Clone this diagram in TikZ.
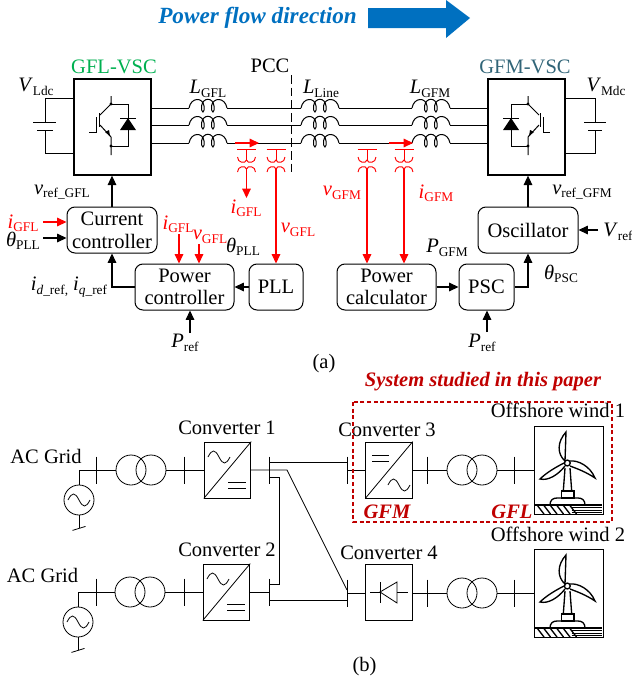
\documentclass[tikz,border=0pt]{standalone}
\usepackage{fontspec}
\setmainfont{Liberation Serif}
\usepackage{tikz}
\usetikzlibrary{arrows.meta, positioning, calc}
\definecolor{flowblue}{RGB}{0,112,192}
\definecolor{gflgreen}{RGB}{0,176,80}
\definecolor{gfmteal}{RGB}{49,101,120}
\definecolor{studyred}{RGB}{192,0,0}
\newcommand{\sigl}[2]{\textit{#1}\raisebox{-2.5pt}{\fontsize{10}{10}\selectfont #2}}
\tikzset{
    every node/.style={font=\fontsize{15.4}{17}\selectfont, inner sep=0pt},
    flow/.style={-{Triangle[length=7pt,width=6.4pt]}, line width=0.8pt},
    wire/.style={line width=0.75pt},
    thinwire/.style={line width=0.6pt},
    redflow/.style={flow, red},
    vscbox/.style={draw, line width=1pt, minimum width=57.75pt, minimum height=72pt},
    ctrl/.style={draw, line width=0.75pt, rounded corners=6pt, minimum height=34.5pt, align=center},
    convbox/.style={draw, thinwire, minimum width=35pt, minimum height=42pt},
    trafo/.style={draw, circle, thinwire, minimum size=22.5pt},
    windbox/.style={draw, thinwire, minimum width=51.75pt, minimum height=66pt},
    coil/.pic={
        \draw[wire] (0,0) .. controls (2,-11) and (14,-11) .. (15,-2) .. controls (16,6) and (12,6) .. (12.5,-2)
            .. controls (14,-11) and (24,-11) .. (25,-2) .. controls (26,6) and (22,6) .. (22.5,-2)
            .. controls (24,-11) and (36,-11) .. (38,0);
        \coordinate (-in) at (0,0);
        \coordinate (-out) at (38,0);
    },
    ct/.pic={
        \draw[red, line width=0.7pt] (-9.5,0) -- (9.5,0);
        \draw[red, line width=0.7pt] (0,0) -- (0,11);
        \draw[red, line width=0.7pt] (-9,8) .. controls (-9,14) and (-1,15) .. (0,11) .. controls (1,15) and (9,14) .. (9,8);
        \draw[red, line width=0.7pt] (-9,23) .. controls (-9,17) and (-1,16) .. (0,20) .. controls (1,16) and (9,17) .. (9,23);
        \coordinate (-out) at (0,20);
    },
    igbt/.pic={
        \draw[wire] (0,-29) -- (0,-21) -- (-11,-10);
        \draw[wire] (-12,-12) -- (-12,2);
        \draw[wire] (-15,-8) -- (-15,7) -- (-22,7);
        \draw[wire] (-11,0) -- (0,12) -- (0,30);
        \fill (-6,7) -- (-1,11) -- (-2,5) -- cycle;
        \fill (0,-21) circle[radius=1.2pt] (0,21) circle[radius=1.2pt];
        \draw[wire] (0,-21) -- (17,-21) -- (17,21) -- (0,21);
        \draw[wire] (9,-7) -- (25,-7);
        \fill (17,-7) -- (9,5) -- (25,5) -- cycle;
    },
    wave/.pic={
        \draw[thinwire] (0,0) .. controls (4,-8) and (7,-8) .. (11,0) .. controls (15,8) and (18,8) .. (22,0);
    },
    busbar/.pic={
        \draw[thinwire] (0,-13.5) -- (0,13.5);
    },
    turbine/.pic={
        % blades
        \draw[line width=1pt, fill=white] (32,6) .. controls (23,16) and (23,28) .. (31,35) -- cycle;
        \draw[line width=1pt] (36,35) .. controls (44,34) and (56,40) .. (61,52) .. controls (52,46) and (44,43) .. (36,40);
        \draw[line width=1pt] (30,37) .. controls (22,41) and (12,47) .. (6,53) .. controls (14,55) and (24,49) .. (31,40);
        \draw[line width=1pt] (33.3,37) circle[radius=2.2pt];
        % tower
        \draw[line width=1pt] (31,42) -- (29.3,65) (36,42) -- (37.7,65);
        \draw[line width=1pt] (27.7,65) rectangle (40,72);
        \draw[line width=1pt] (16,79) .. controls (16,74) and (19,72) .. (23,72) -- (44,72) .. controls (48,72) and (51,74) .. (51,79);
        % sea
        \draw[line width=1pt] (1,79) -- (67.7,79);
        \foreach \l in {81.8,84.3,86.8} {
            \draw[line width=0.7pt] (37.7,\l) -- (67.7,\l);
        }
        \foreach \s in {3,9.5,16,22.5,29,35.5} {
            \draw[line width=1pt] (\s,79) -- (\s+7,88);
        }
    },
}
\begin{document}
\begin{tikzpicture}[x=0.75pt, y=-0.75pt]
\useasboundingbox (0,0) rectangle (632,682);

% Power flow banner
\node[font=\fontsize{17.4}{20}\selectfont\bfseries\itshape, text=flowblue] (flowtitle) at (257.5,18) {Power flow direction};
\fill[flowblue] (368,8) -- (446,8) -- (446,0) -- (470,18) -- (446,38) -- (446,28) -- (368,28) -- cycle;

% Converters
\node[vscbox] (gflvsc) at (112.5,127) {};
\node[vscbox] (gfmvsc) at (526.5,127) {};
\node[text=gflgreen] (gfltitle) at (114,67) {GFL-VSC};
\node[text=gfmteal] (gfmtitle) at (525,67) {GFM-VSC};
\pic at (111,125) {igbt};
\pic[xscale=-1] at (528,125) {igbt};

% DC sides
\node (vldc) at (36,87) {\sigl{V}{Ldc}};
\draw[wire] (gflvsc.west |- 0,98) -- (45,98) -- (45,122) (33,122) -- (56,122) (37,130) -- (53,130) (45,130) -- (45,153) -- (gflvsc.west |- 0,153);
\node (vmdc) at (606,87) {\sigl{V}{Mdc}};
\draw[wire] (gfmvsc.east |- 0,98) -- (595,98) -- (595,122) (584,122) -- (606,122) (588,130) -- (602,130) (595,130) -- (595,153) -- (gfmvsc.east |- 0,153);

% Three phase lines
\foreach \y/\n in {108/1, 125/2, 143/3} {
    \pic (lgfl\n) at (189,\y) {coil};
    \pic (lline\n) at (301,\y) {coil};
    \pic (lgfm\n) at (412,\y) {coil};
    \draw[wire] (gflvsc.east |- lgfl\n-in) -- (lgfl\n-in);
    \draw[wire] (lgfl\n-out) -- (lline\n-in);
    \draw[wire] (lline\n-out) -- (lgfm\n-in);
    \draw[wire] (lgfm\n-out) -- (gfmvsc.west |- lgfm\n-out);
}
\node (lgfltxt) at (208,89) {\sigl{L}{GFL}};
\node (llinetxt) at (321,89) {\sigl{L}{Line}};
\node (lgfmtxt) at (430,89) {\sigl{L}{GFM}};

% PCC
\node (pcc) at (270,66) {PCC};
\coordinate (pcctop) at (291,75);
\coordinate (pccbot) at (291,173);
\draw[wire, dash pattern=on 6.5pt off 3pt] (pcctop) -- (pccbot);

% Measurements
\coordinate (igfls) at (235,143);
\coordinate (igfle) at (259,143);
\coordinate (igfms) at (389,143);
\coordinate (igfme) at (413,143);
\draw[redflow] (igfls) -- (igfle);
\draw[redflow] (igfms) -- (igfme);
\pic (ctia) at (246.5,149) {ct};
\pic (ctva) at (276,149) {ct};
\pic (ctvb) at (367,149) {ct};
\pic (ctib) at (404,149) {ct};

% Control blocks
\node[ctrl, minimum width=67.5pt] (curctrl) at (112,230) {Current\\controller};
\node[ctrl, minimum width=74.25pt] (powctrl) at (184.5,287) {Power\\controller};
\node[ctrl, minimum width=40.5pt] (pll) at (276,287) {PLL};
\node[ctrl, minimum width=74.25pt] (powcalc) at (386.5,287) {Power\\calculator};
\node[ctrl, minimum width=41.25pt] (psc) at (486.5,287) {PSC};
\node[ctrl, minimum width=75pt] (osc) at (528,230) {Oscillator};

% Control connectors
\draw[flow] (curctrl.north) -- (curctrl.north |- gflvsc.south);
\draw[flow] (powctrl.west) -| (curctrl.south);
\draw[flow] (pll.west) -- (powctrl.east);
\draw[flow] (osc.north) -- (osc.north |- gfmvsc.south);
\draw[flow] (powcalc.east) -- (psc.west);
\draw[flow] (psc.east) -| (osc.south);

% Red feedback signals
\coordinate (igflend) at (246.5,198);
\draw[redflow] (ctia-out) -- (igflend);
\draw[redflow] (ctva-out) -- (pll.north -| ctva-out);
\draw[redflow] (ctvb-out) -- (powcalc.north -| ctvb-out);
\draw[redflow] (ctib-out) -- (powcalc.north -| ctib-out);
\node[text=red] (igflb) at (246,208) {\sigl{i}{GFL}};
\node[text=red] (vgflb) at (298,230) {\sigl{v}{GFL}};
\node[text=red] (vgfmb) at (342,193) {\sigl{v}{GFM}};
\node[text=red] (igfmb) at (436,193) {\sigl{i}{GFM}};

% Inputs of current controller
\node[text=red] (igfla) at (23,223) {\sigl{i}{GFL}};
\node (thetaa) at (23,241) {\sigl{θ}{PLL}};
\coordinate (igflin) at (43,222);
\coordinate (thetain) at (43,238);
\draw[redflow] (igflin) -- (igflin -| curctrl.west);
\draw[flow] (thetain) -- (thetain -| curctrl.west);

% Inputs of power controller
\node[text=red] (igflc) at (178,224) {\sigl{i}{GFL}};
\node[text=red] (vgflc) at (210,237) {\sigl{v}{GFL}};
\node (thetab) at (243,247) {\sigl{θ}{PLL}};
\coordinate (igflpc) at (179,234);
\coordinate (vgflpc) at (199,244);
\draw[redflow] (igflpc) -- (igflpc |- powctrl.north);
\draw[redflow] (vgflpc) -- (vgflpc |- powctrl.north);

% Remaining labels
\node (vrefa) at (62,192) {\sigl{v}{ref\_GFL}};
\node (idq) at (69,287) {\sigl{i}{\textit{d}\_ref,} \sigl{i}{\textit{q}\_ref}};
\node (prefa) at (185,343) {\sigl{P}{ref}};
\coordinate (prefaup) at (190,333);
\draw[flow] (prefaup) -- (prefaup |- powctrl.south);
\node (vrefb) at (582,192) {\sigl{v}{ref\_GFM}};
\node (pgfm) at (447,248) {\sigl{P}{GFM}};
\node (thetac) at (561,274) {\sigl{θ}{PSC}};
\node (vref) at (618,232) {\sigl{V}{ref}};
\coordinate (vrefin) at (598,230);
\draw[flow] (vrefin) -- (vrefin -| osc.east);
\node (prefb) at (482,343) {\sigl{P}{ref}};
\coordinate (prefbup) at (487,332);
\draw[flow] (prefbup) -- (prefbup |- psc.south);
\node (capa) at (324,364) {(a)};

% AC grids
\node (grida) at (46,456) {AC Grid};
\node (gridb) at (42.5,575) {AC Grid};
\foreach \n/\x/\y in {a/79/500, b/78/622} {
    \node[draw, circle, thinwire, minimum size=22.5pt] (src\n) at (\x,\y) {};
    \pic at (\x-11,\y) {wave};
    \draw[thinwire] (src\n.south) -- ++(0,13) coordinate (gnd\n);
    \draw[thinwire] ($(gnd\n)+(-6.5,2)$) -- ($(gnd\n)+(6.5,-2)$);
}

% Grid side rows
\foreach \n/\y/\d in {a/470/0, b/592/-1} {
    \node[trafo] (tra\n) at (131+\d,\y) {};
    \node[trafo] (trb\n) at (151+\d,\y) {};
    \node[convbox] (conv\n) at (227.5+\d,\y) {};
    \pic at (96,\y) {busbar};
    \pic at (184,\y) {busbar};
    \pic at (269,\y) {busbar};
    \draw[thinwire] (src\n.north) |- (tra\n.west);
    \draw[thinwire] (trb\n.east) -- (conv\n.west);
    \draw[thinwire] (conv\n.south west) -- (conv\n.north east);
    \pic at (208+\d,\y-13) {wave};
    \draw[thinwire] (228+\d,\y+12) -- (246+\d,\y+12) (228+\d,\y+18) -- (246+\d,\y+18);
}
\node (lblca) at (227,428) {Converter 1};
\node (lblcb) at (227,550) {Converter 2};

% Offshore rows
\node[convbox] (convc) at (389,470) {};
\node[convbox] (convd) at (389,592) {};
\foreach \n/\y in {c/470, d/593} {
    \node[trafo] (tra\n) at (462,\y) {};
    \node[trafo] (trb\n) at (482,\y) {};
    \pic at (347,\y) {busbar};
    \pic at (427,\y) {busbar};
    \pic at (514,\y) {busbar};
}
\node[windbox] (winda) at (568.5,470) {};
\node[windbox] (windb) at (568.5,593) {};
\pic at (534,426) {turbine};
\pic at (534,549) {turbine};
\draw[thinwire] (convc.east) -- (trac.west);
\draw[thinwire] (trbc.east) -- (winda.west);
\draw[thinwire] (convd.east |- trad.west) -- (trad.west);
\draw[thinwire] (trbd.east) -- (windb.west);
\draw[thinwire] (347,470) -- (convc.west);
\draw[thinwire] (347,593) -- (convd.west |- trad.west);
\node (lblcc) at (387,430) {Converter 3};
\node (lblcd) at (389,553) {Converter 4};
\node (lblwa) at (558,410) {Offshore wind 1};
\node (lblwb) at (558,534) {Offshore wind 2};

% Converter 3 and 4 symbols
\draw[thinwire] (convc.south west) -- (convc.north east);
\draw[thinwire] (372,455) -- (389,455) (372,461) -- (389,461);
\pic at (388,485) {wave};
\draw[thinwire] (370,592) -- (380,592) (397,592) -- (408,592);
\draw[thinwire] (380,582) -- (380,603);
\draw[thinwire] (380,592) -- (397,582) -- (397,603) -- cycle;

% DC links
\draw[thinwire] (conva.east) -- (287,470) -- (347,590);
\draw[thinwire] (269,462) -- (347,462);
\draw[thinwire] (269,477) -- (279,477) -- (279,584) -- (269,584);
\draw[thinwire] (convb.east) -- (269,592);
\draw[thinwire] (269,600) -- (347,600);
\node (capb) at (364.5,667) {(b)};

% Studied region
\draw[studyred, line width=1.2pt, dash pattern=on 3pt off 2pt] (353,402) rectangle (612,522);
\node[font=\fontsize{15.4}{17}\selectfont\bfseries\itshape, text=studyred] (study) at (483,382) {System studied in this paper};
\node[font=\fontsize{15.4}{17}\selectfont\bfseries\itshape, text=studyred] (gfmlbl) at (387,512) {GFM};
\node[font=\fontsize{15.4}{17}\selectfont\bfseries\itshape, text=studyred] (gfllbl) at (512,512) {GFL};
\end{tikzpicture}
\end{document}
